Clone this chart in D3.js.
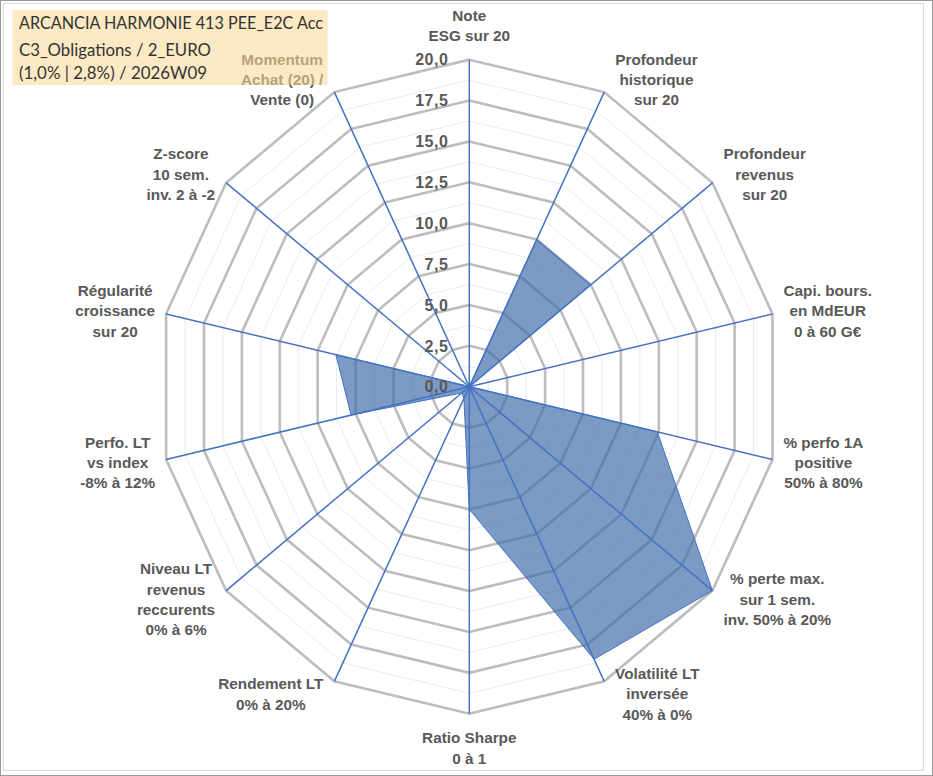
<!DOCTYPE html>
<html>
<head>
<meta charset="utf-8">
<script src="https://cdn.jsdelivr.net/npm/d3@7"></script>
<style>
  body { margin: 0; background: #fff; }
  svg { display: block; }
</style>
</head>
<body>
<div class="chart"></div>
<script>
// axis labels, one entry per spoke (clockwise from the top)
var axisLabels = [
    ["Note", "ESG sur 20"],
    ["Profondeur", "historique", "sur 20"],
    ["Profondeur", "revenus", "sur 20"],
    ["Capi. bours.", "en MdEUR", "0 à 60 G€"],
    ["% perfo 1A", "positive", "50% à 80%"],
    ["% perte max.", "sur 1 sem.", "inv. 50% à 20%"],
    ["Volatilité LT", "inversée", "40% à 0%"],
    ["Ratio Sharpe", "0 à 1"],
    ["Rendement LT", "0% à 20%"],
    ["Niveau LT", "revenus", "reccurents", "0% à 6%"],
    ["Perfo. LT", "vs index", "-8% à 12%"],
    ["Régularité", "croissance", "sur 20"],
    ["Z-score", "10 sem.", "inv. 2 à -2"],
    ["Momentum", "Achat (20) /", "Vente (0)"]
];
var scores = [0, 10, 10, 0, 12.4, 20, 18.5, 7.5, 0.8, 0.6, 7.8, 8.8, 0, 0];
var majorTicks = [0, 2.5, 5, 7.5, 10, 12.5, 15, 17.5, 20];
var minorTicks = [1.25, 3.75, 6.25, 8.75, 11.25, 13.75, 16.25, 18.75];
var titleLines = ["ARCANCIA HARMONIE 413 PEE_E2C Acc", "C3_Obligations / 2_EURO", "(1,0% | 2,8%) / 2026W09"];

function init() {
    var w = 933;
    var h = 776;
    var cx = 469.3, cy = 386.7;
    var rx = 311, ry = 327;   // plot is a bit squeezed horizontally
    var n = axisLabels.length;

    var rScale = d3.scaleLinear().domain([0, 20]).range([0, 1]);
    var angle = d3.scaleLinear().domain([0, n]).range([0, 2 * Math.PI]);
    var fr = d3.formatLocale({ decimal: ",", thousands: " ", grouping: [3], currency: ["", "€"] });
    var fmt = fr.format(".1f");

    function px(i, v) { return cx + rx * rScale(v) * Math.sin(angle(i)); }
    function py(i, v) { return cy - ry * rScale(v) * Math.cos(angle(i)); }

    var svg = d3.select(".chart")
        .append("svg")
        .attr("width", w)
        .attr("height", h);

    // frame
    svg.append("rect")
        .attr("x", 0.5).attr("y", 0.5)
        .attr("width", w - 1).attr("height", h - 1)
        .style("fill", "none").style("stroke", "#9a9a9a");
    svg.append("rect")
        .attr("x", 3.5).attr("y", 3.5)
        .attr("width", 920).attr("height", 767)
        .style("fill", "none").style("stroke", "#d9d9d9");

    var ring = function (v) {
        return d3.range(n).map(function (i) { return [px(i, v), py(i, v)]; });
    };
    var closed = d3.line().curve(d3.curveLinearClosed);

    svg.selectAll(".minor")
        .data(minorTicks)
        .enter().append("path")
        .attr("class", "minor")
        .attr("d", function (d) { return closed(ring(d)); })
        .style("fill", "none")
        .style("stroke", "#ececec")
        .style("stroke-width", 1);

    svg.selectAll(".major")
        .data(majorTicks.slice(1))
        .enter().append("path")
        .attr("class", "major")
        .attr("d", function (d) { return closed(ring(d)); })
        .style("fill", "none")
        .style("stroke", "#bdbdbd")
        .style("stroke-width", 2.6)
        .style("stroke-linejoin", "miter");

    // data area
    svg.append("path")
        .datum(scores)
        .attr("d", closed(scores.map(function (v, i) { return [px(i, v), py(i, v)]; })))
        .style("fill", "#3d6aa8")
        .style("fill-opacity", 0.68)
        .style("stroke", "#4472c4")
        .style("stroke-width", 1);

    // spokes
    svg.selectAll(".spoke")
        .data(axisLabels)
        .enter().append("line")
        .attr("class", "spoke")
        .attr("x1", cx).attr("y1", cy)
        .attr("x2", function (d, i) { return px(i, 20); })
        .attr("y2", function (d, i) { return py(i, 20); })
        .style("stroke", "#4472c4")
        .style("stroke-width", 1.5);

    // tick labels
    svg.selectAll(".tick")
        .data(majorTicks)
        .enter().append("text")
        .attr("class", "tick")
        .attr("x", cx - 21)
        .attr("y", function (d) { return py(0, d); })
        .attr("dy", "0.36em")
        .attr("text-anchor", "end")
        .style("font-family", "'Liberation Sans', Arial, sans-serif")
        .style("font-weight", "bold")
        .style("font-size", "16px")
        .style("letter-spacing", "0.5px")
        .style("fill", "#595959")
        .text(function (d) { return fmt(d); });

    // axis labels
    var lh = 20.4;
    axisLabels.forEach(function (lines, i) {
        var g = svg.append("text")
            .attr("text-anchor", "middle")
            .style("font-family", "'Liberation Sans', Arial, sans-serif")
            .style("font-weight", "bold")
            .style("font-size", "15.3px")
            .style("fill", "#595959");
        lines.forEach(function (t) {
            g.append("tspan").text(t);
        });
        var wMax = d3.max(g.selectAll("tspan").nodes(), function (node) { return node.getComputedTextLength(); });
        var s = Math.sin(angle(i)), c = Math.cos(angle(i));
        var ex = px(i, 20), ey = py(i, 20);
        var bh = lines.length * lh;
        var mx, my;
        if (Math.abs(s) < 0.1) {
            mx = ex;
            my = ey - c * (bh / 2 + 14);
        } else {
            mx = ex + (s > 0 ? 1 : -1) * (wMax / 2 + 11);
            my = ey - c * 14;
        }
        g.selectAll("tspan")
            .attr("x", mx)
            .attr("y", function (d, k) { return my + (k - (lines.length - 1) / 2) * lh; })
            .attr("dy", "0.36em");
    });

    // title box, semi transparent over the Momentum label
    svg.append("rect")
        .attr("x", 12.5).attr("y", 10)
        .attr("width", 315).attr("height", 75)
        .style("fill", "#fbd997")
        .style("fill-opacity", 0.57);

    var titleW = [304, 192, 188];
    svg.selectAll(".title")
        .data(titleLines)
        .enter().append("text")
        .attr("class", "title")
        .attr("x", 19)
        .attr("y", function (d, i) { return [29, 56, 79][i]; })
        .attr("textLength", function (d, i) { return titleW[i]; })
        .attr("lengthAdjust", "spacingAndGlyphs")
        .style("font-family", "Lato, 'Open Sans', sans-serif")
        .style("font-size", "17px")
        .style("fill", "#333")
        .text(function (d) { return d; });
}

init();
</script>
</body>
</html>
